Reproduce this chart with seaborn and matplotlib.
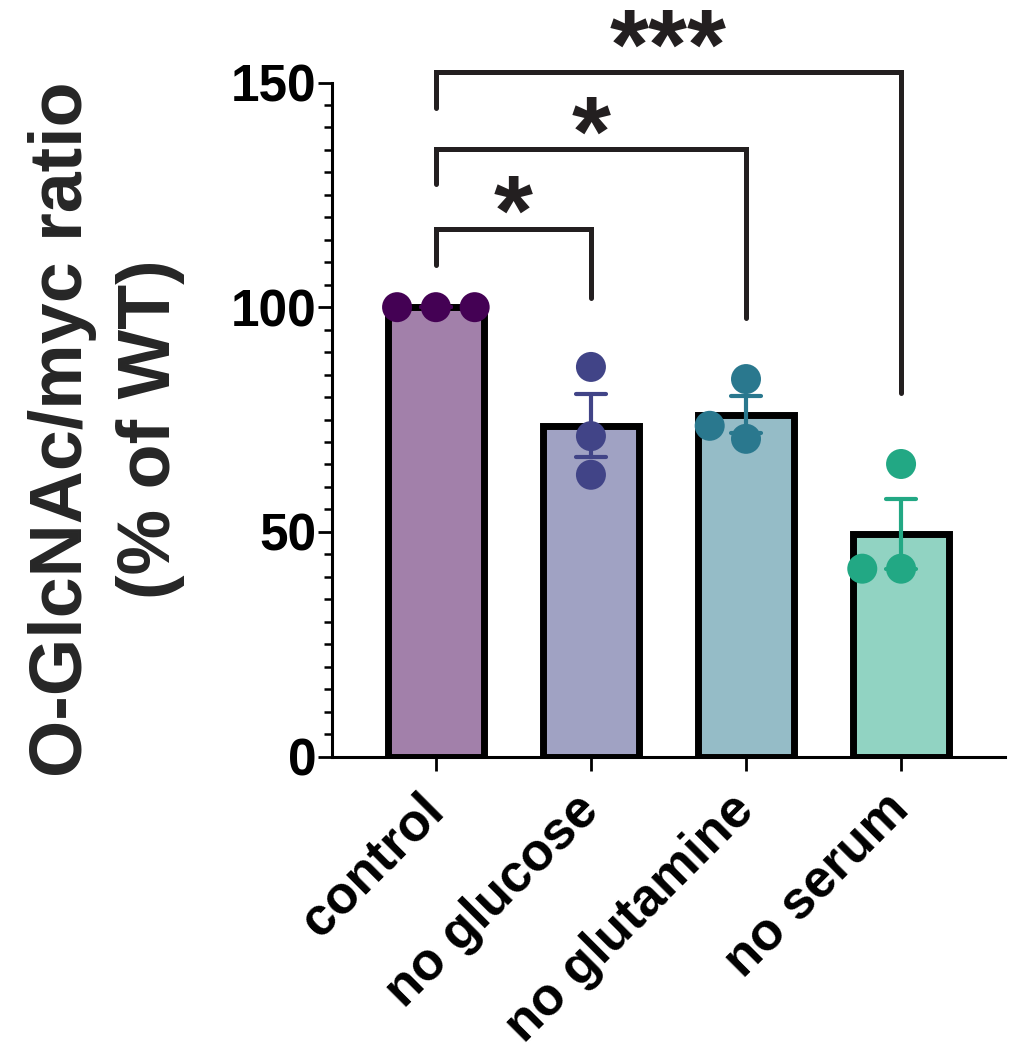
import matplotlib
matplotlib.use("Agg")
import matplotlib.pyplot as plt
import matplotlib.colors as mcolors
from matplotlib.ticker import MultipleLocator
import numpy as np
import pandas as pd
import seaborn as sns

# values (% of WT), three replicates per condition
groups = ["control", "no glucose", "no glutamine", "no serum"]
control = [100.0, 100.0, 100.0]
no_glucose = [86.7, 71.3, 62.7]
no_glutamine = [84.0, 70.7, 73.6]
no_serum = [65.1, 41.8, 41.8]
dot_colors = ["#440154", "#414487", "#2a788e", "#22a884"]

# significance brackets (vs control)
bracket_pairs = [("control", "no glucose"), ("control", "no glutamine"), ("control", "no serum")]
bracket_tops = [117.5, 135.3, 152.4]
left_leg_ends = [109.4, 127.4, 144.4]
right_leg_ends = [102.0, 97.6, 80.8]
stars = ["*", "*", "***"]
star_gaps = [-3.6, -3.8, -1.6]


def lighten(c, a=0.5):
    r, g, b = mcolors.to_rgb(c)
    return (a * r + (1 - a), a * g + (1 - a), a * b + (1 - a))


sns.set_style("ticks")
plt.rcParams["font.family"] = ["Liberation Sans", "DejaVu Sans"]
plt.rcParams["font.weight"] = "bold"

df = pd.DataFrame({
    "group": np.repeat(groups, 3),
    "value": control + no_glucose + no_glutamine + no_serum,
})
fill_colors = [lighten(c) for c in dot_colors]

fig = plt.figure(figsize=(10.24, 10.51), dpi=100)
ax = fig.add_axes([0.3242, 0.2802, 0.6572, 0.6413])

sns.barplot(data=df, x="group", y="value", hue="group", palette=fill_colors,
            saturation=1, errorbar=None, width=0.62, edgecolor="black",
            linewidth=5, legend=False, ax=ax, zorder=1)
sns.pointplot(data=df, x="group", y="value", hue="group", palette=dot_colors,
              errorbar="se", capsize=0.19, linestyle="none", marker="",
              err_kws={"linewidth": 3}, legend=False, ax=ax)
# invisible edge widens the swarm spacing a bit, like the original
sns.swarmplot(data=df, x="group", y="value", hue="group", palette=dot_colors,
              size=21.6, linewidth=5, edgecolor="none", legend=False, ax=ax,
              zorder=4)

for (a, b), top, l_end, r_end, s, g in zip(bracket_pairs, bracket_tops, left_leg_ends,
                                           right_leg_ends, stars, star_gaps):
    xa, xb = groups.index(a), groups.index(b)
    ax.plot([xa, xa, xb, xb], [l_end, top, top, r_end], color="#231f20",
            lw=3.6, clip_on=False, solid_joinstyle="miter", zorder=5)
    ax.text((xa + xb) / 2, top + g, s, ha="center", va="baseline",
            fontsize=72, fontweight="bold", color="#231f20", clip_on=False)

ax.set_ylim(0, 150)
ax.set_xlim(-0.67, 3.67)
ax.set_yticks([0, 50, 100, 150])
ax.yaxis.set_minor_locator(MultipleLocator(5))
sns.despine(ax=ax)
for sp in ["left", "bottom"]:
    ax.spines[sp].set_linewidth(2.2)
    ax.spines[sp].set_color("black")

ax.tick_params(axis="y", which="major", length=10, width=2, labelsize=37, pad=1, colors="black")
ax.tick_params(axis="y", which="minor", length=6, width=1.8, colors="black")
ax.tick_params(axis="x", which="major", length=10, width=2, labelsize=38, pad=23, colors="black")
for lab in ax.get_yticklabels():
    lab.set_fontweight("bold")
ax.set_xticks(range(len(groups)))
ax.set_xticklabels(groups, rotation=45, ha="right", va="center",
                   rotation_mode="anchor", fontweight="bold")

ax.set_xlabel("")
ax.set_ylabel("O-GlcNAc/myc ratio\n(% of WT)", fontsize=53, fontweight="bold",
              va="center", multialignment="center", linespacing=1.35)
ax.yaxis.set_label_coords(-0.335, 0.486)

fig.savefig("out.png", dpi=100)
